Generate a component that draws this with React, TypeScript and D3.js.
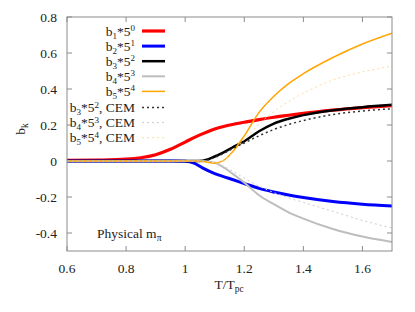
import React from 'react';
import * as d3 from 'd3';

// T/Tpc grid shared by all series
const temps = [0.6, 0.7, 0.8, 0.85, 0.9, 0.95, 1.0, 1.03, 1.06, 1.1, 1.13, 1.16, 1.2, 1.25, 1.3, 1.35, 1.4, 1.5, 1.6, 1.7];

const b1 = [0.003, 0.005, 0.01, 0.018, 0.035, 0.065, 0.105, 0.13, 0.152, 0.178, 0.192, 0.203, 0.215, 0.23, 0.243, 0.254, 0.265, 0.283, 0.297, 0.308];
const b2 = [0, 0, 0, 0, 0, 0, -0.002, -0.012, -0.04, -0.07, -0.087, -0.103, -0.125, -0.152, -0.172, -0.189, -0.203, -0.225, -0.24, -0.25];
const b3 = [0, 0, 0, 0, 0, 0, 0, 0, 0.002, 0.025, 0.048, 0.075, 0.11, 0.165, 0.208, 0.235, 0.255, 0.282, 0.299, 0.312];
const b4 = [0, 0, 0, 0, 0, 0, 0, 0, 0, -0.01, -0.035, -0.07, -0.12, -0.19, -0.24, -0.285, -0.32, -0.378, -0.42, -0.45];
const b5 = [0, 0, 0, 0, 0, 0, 0, 0, -0.003, -0.012, 0.003, 0.05, 0.14, 0.27, 0.36, 0.43, 0.485, 0.575, 0.65, 0.71];
const b3cem = [0, 0, 0, 0, 0, 0, 0, 0, 0, 0.02, 0.042, 0.068, 0.1, 0.14, 0.175, 0.203, 0.225, 0.258, 0.278, 0.29];
const b4cem = [0, 0, 0, 0, 0, 0, 0, 0, 0, -0.01, -0.03, -0.055, -0.095, -0.14, -0.175, -0.205, -0.23, -0.28, -0.33, -0.372];
const b5cem = [0, 0, 0, 0, 0, 0, 0, 0, 0, -0.008, 0.005, 0.045, 0.12, 0.205, 0.275, 0.33, 0.377, 0.45, 0.495, 0.527];

const xTicks = [0.6, 0.8, 1, 1.2, 1.4, 1.6];
const yTicks = [-0.4, -0.2, 0, 0.2, 0.4, 0.6, 0.8];

const series = [
  { k: 1, p: 0, cem: false, values: b1, color: '#ff0000', width: 3.2, dash: '' },
  { k: 2, p: 1, cem: false, values: b2, color: '#0000ff', width: 3, dash: '' },
  { k: 3, p: 2, cem: false, values: b3, color: '#000000', width: 2.5, dash: '' },
  { k: 4, p: 3, cem: false, values: b4, color: '#bdbdbd', width: 2, dash: '' },
  { k: 5, p: 4, cem: false, values: b5, color: '#ffa500', width: 1.5, dash: '' },
  { k: 3, p: 2, cem: true, values: b3cem, color: '#333333', width: 1.5, dash: '2,3' },
  { k: 4, p: 3, cem: true, values: b4cem, color: '#cccccc', width: 1, dash: '2,3' },
  { k: 5, p: 4, cem: true, values: b5cem, color: '#ffd9a0', width: 1, dash: '2,3' },
];

const font = "'Liberation Serif', 'DejaVu Serif', serif";

export default function App() {
  const W = 415, H = 312;
  const m = { left: 67, right: 23, top: 17, bottom: 61 };
  const x = d3.scaleLinear().domain([0.6, 1.7]).range([m.left, W - m.right]);
  const y = d3.scaleLinear().domain([-0.5, 0.8]).range([H - m.bottom, m.top]);
  const line = d3.line<number>()
    .x((_, i) => x(temps[i]))
    .y(d => y(d))
    .curve(d3.curveMonotoneX);

  const [x0, x1] = x.range();
  const [yb, yt] = y.range();
  const frame = '#8c8c8c';

  return (
    <svg width={W} height={H}
      style={{ position: 'absolute', left: 0, top: 0, background: '#fff', fontFamily: font, fontSize: 13.5 }}>
      <defs>
        <clipPath id="plot">
          <rect x={x0} y={yt} width={x1 - x0} height={yb - yt} />
        </clipPath>
      </defs>

      {/* ticks, inside and mirrored */}
      {xTicks.map(t => (
        <g key={'x' + t}>
          <line x1={x(t)} x2={x(t)} y1={yb} y2={yb - 5} stroke={frame} />
          <line x1={x(t)} x2={x(t)} y1={yt} y2={yt + 5} stroke={frame} />
          <text x={x(t)} y={yb + 22} textAnchor="middle" fill="#222">{t === 1 ? '1' : t.toFixed(1)}</text>
        </g>
      ))}
      {yTicks.map(t => (
        <g key={'y' + t}>
          <line x1={x0} x2={x0 + 5} y1={y(t)} y2={y(t)} stroke={frame} />
          <line x1={x1} x2={x1 - 5} y1={y(t)} y2={y(t)} stroke={frame} />
          <text x={x0 - 10} y={y(t) + 4.5} textAnchor="end" fill="#222">{t === 0 ? '0' : t.toFixed(1)}</text>
        </g>
      ))}

      {/* curves */}
      <g clipPath="url(#plot)">
        {series.map((s, i) => (
          <path key={i} d={line(s.values) || ''} fill="none" stroke={s.color}
            strokeWidth={s.width} strokeDasharray={s.dash || undefined} />
        ))}
      </g>

      <rect x={x0} y={yt} width={x1 - x0} height={yb - yt} fill="none" stroke={frame} />

      {/* legend */}
      {series.map((s, i) => {
        const ly = 31 + i * 15.1 + (s.cem ? 1 : 0);
        return (
          <g key={'l' + i}>
            <text x={135} y={ly + 4.5} textAnchor="end" fill="#222">
              b<tspan dy={3} fontSize={9}>{s.k}</tspan><tspan dy={-3}>*5</tspan>
              <tspan dy={-4.5} fontSize={9}>{s.p}</tspan><tspan dy={4.5}>{s.cem ? ', CEM' : ''}</tspan>
            </text>
            <line x1={142} x2={165} y1={ly} y2={ly} stroke={s.color}
              strokeWidth={s.width} strokeDasharray={s.dash || undefined} />
          </g>
        );
      })}

      <text x={97} y={238} fill="#222">Physical m<tspan dy={3} fontSize={9.5}>π</tspan></text>

      <text x={229} y={289} textAnchor="middle" fill="#222">
        T/T<tspan dy={3} fontSize={9.5}>pc</tspan>
      </text>

      <text transform={`translate(25,${(yt + yb) / 2 - 5}) rotate(-90)`} textAnchor="middle" fill="#222">
        b<tspan dy={3} fontSize={9.5}>k</tspan>
      </text>
    </svg>
  );
}
